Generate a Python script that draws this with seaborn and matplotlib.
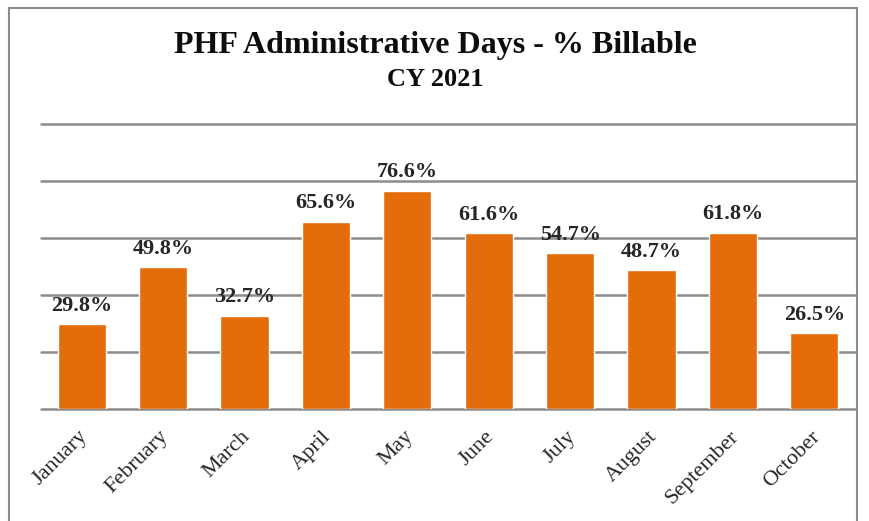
import pandas as pd
import numpy as np
import matplotlib
matplotlib.use("Agg")
import matplotlib.pyplot as plt
import matplotlib.transforms as mtransforms
import seaborn as sns
from matplotlib.patches import Rectangle

months = ["January", "February", "March", "April", "May", "June",
          "July", "August", "September", "October"]
pct_billable = [29.8, 49.8, 32.7, 65.6, 76.6, 61.6, 54.7, 48.7, 61.8, 26.5]

df = pd.DataFrame({"month": months, "pct": pct_billable})

sns.set_style("white")
plt.rcParams["font.family"] = ["Liberation Serif", "DejaVu Serif"]

fig = plt.figure(figsize=(8.7, 5.21), dpi=100)
ax = fig.add_axes([41 / 870, 1 - 409 / 521, (855 - 41) / 870, (409 - 124) / 521])

sns.barplot(data=df, x="month", y="pct", color="#E46C0A", saturation=1,
            width=0.59, ax=ax, zorder=3)

ax.set_ylim(0, 100)
ax.set_yticks(np.arange(0, 101, 20))
ax.set_yticklabels([])
ax.tick_params(axis="y", length=0)
ax.grid(axis="y", color="#8c8c8c", linewidth=1.8, zorder=0)
for gl in ax.get_ygridlines():
    gl.set_clip_on(False)
for s in ax.spines.values():
    s.set_visible(False)
ax.set_xlabel("")
ax.set_ylabel("")
ax.tick_params(axis="x", length=0, pad=13)
ax.set_xticks(range(len(months)))
ax.set_xticklabels(months, rotation=45, ha="right", rotation_mode="anchor",
                   fontsize=16, color="#262626")
# nudge the rotated month labels a bit left, like the original
shift = mtransforms.ScaledTranslation(-4 / 100, 0, fig.dpi_scale_trans)
for lbl in ax.get_xticklabels():
    lbl.set_transform(lbl.get_transform() + shift)

for i, v in enumerate(pct_billable):
    ax.text(i, v + 3, f"{v}%", ha="center", va="bottom", fontsize=16,
            fontweight="bold", color="#262626")

fig.text(0.5, 1 - 46 / 521, "PHF Administrative Days - % Billable", ha="center",
         va="center", fontsize=23, fontweight="bold", color="#0d0d0d")
fig.text(0.5, 1 - 79 / 521, "CY 2021", ha="center", va="center",
         fontsize=19, fontweight="bold", color="#0d0d0d")

fig.patches.append(Rectangle((9 / 870, -0.05), (857 - 9) / 870, 1.05 - 8 / 521,
                             transform=fig.transFigure, fill=False,
                             edgecolor="#8c8c8c", linewidth=1.5))

fig.savefig("out.png", dpi=100)
